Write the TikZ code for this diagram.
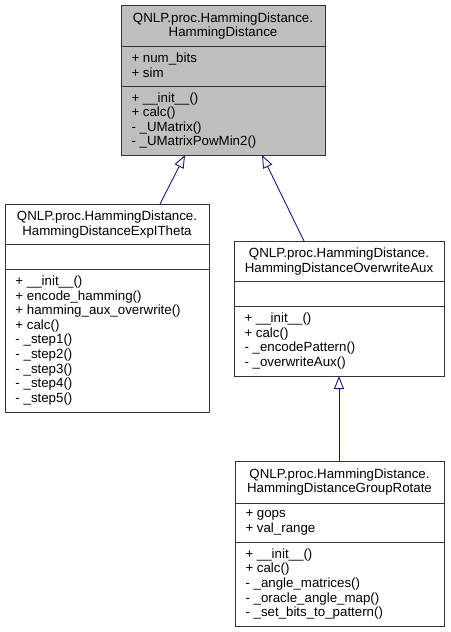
\documentclass[tikz,border=0pt]{standalone}
\usepackage{fontspec}
\setmainfont{Liberation Sans}
\usetikzlibrary{arrows.meta}
\definecolor{edgeblue}{HTML}{191970}
\definecolor{basefill}{HTML}{BFBFBF}
\definecolor{boxline}{HTML}{333333}
\begin{document}
\begin{tikzpicture}[x=1pt,y=-1pt,
  every node/.style={font=\fontsize{13.3}{14.6}\selectfont, inner sep=0pt, outer sep=0pt},
  classbox/.style={draw=boxline, line width=1pt, anchor=north west, rectangle},
  sepline/.style={draw=boxline, line width=1pt},
  titletext/.style={align=center},
  membertext/.style={align=left, anchor=west},
  inherit/.style={draw=edgeblue, line width=0.9pt, -{Triangle[open, length=13pt, width=10pt, line width=0.9pt]}}
]
\useasboundingbox (0,0) rectangle (450,632);

% ---------- base class ----------
\node[classbox, fill=basefill, minimum width=204pt, minimum height=150pt] (base) at (121,5) {};
\draw[sepline] (121,46) -- (325,46);
\draw[sepline] (121,86) -- (325,86);
\node[titletext] (baseT) at (223,26) {QNLP.proc.HammingDistance.\\HammingDistance};
\node[membertext] (baseA) at (131.5,65) {+ num\_bits\\+ sim};
\node[membertext] (baseM) at (131.5,120.5) {+ \_\_init\_\_()\\+ calc()\\- \_UMatrix()\\- \_UMatrixPowMin2()};

% ---------- ExpITheta ----------
\node[classbox, fill=white, minimum width=204pt, minimum height=208pt] (expi) at (5,204) {};
\draw[sepline] (5,244) -- (209,244);
\draw[sepline] (5,269) -- (209,269);
\node[titletext] (expiT) at (107,224.5) {QNLP.proc.HammingDistance.\\HammingDistanceExpITheta};
\node[membertext] (expiM) at (15.5,340.5) {+ \_\_init\_\_()\\+ encode\_hamming()\\+ hamming\_aux\_overwrite()\\+ calc()\\- \_step1()\\- \_step2()\\- \_step3()\\- \_step4()\\- \_step5()};

% ---------- OverwriteAux ----------
\node[classbox, fill=white, minimum width=210pt, minimum height=135pt] (owa) at (234,241) {};
\draw[sepline] (234,281) -- (444,281);
\draw[sepline] (234,306) -- (444,306);
\node[titletext] (owaT) at (339,261.5) {QNLP.proc.HammingDistance.\\HammingDistanceOverwriteAux};
\node[membertext] (owaM) at (244.5,341) {+ \_\_init\_\_()\\+ calc()\\- \_encodePattern()\\- \_overwriteAux()};

% ---------- GroupRotate ----------
\node[classbox, fill=white, minimum width=209pt, minimum height=165pt] (grp) at (235,461) {};
\draw[sepline] (235,503) -- (444,503);
\draw[sepline] (235,542) -- (444,542);
\node[titletext] (grpT) at (339.5,482) {QNLP.proc.HammingDistance.\\HammingDistanceGroupRotate};
\node[membertext] (grpA) at (245.5,522.5) {+ gops\\+ val\_range};
\node[membertext] (grpM) at (245.5,584) {+ \_\_init\_\_()\\+ calc()\\- \_angle\_matrices()\\- \_oracle\_angle\_map()\\- \_set\_bits\_to\_pattern()};

% ---------- connector ends ----------
\coordinate (expiTop) at (160,204);
\coordinate (baseL) at (185,155);
\coordinate (owaTop) at (304,241);
\coordinate (baseR) at (262,155);
\coordinate (grpTop) at (339,461);
\coordinate (owaBot) at (339,376);

\draw[inherit] (expiTop) -- (baseL);
\draw[inherit] (owaTop) -- (baseR);
\draw[inherit] (grpTop) -- (owaBot);
\end{tikzpicture}
\end{document}
